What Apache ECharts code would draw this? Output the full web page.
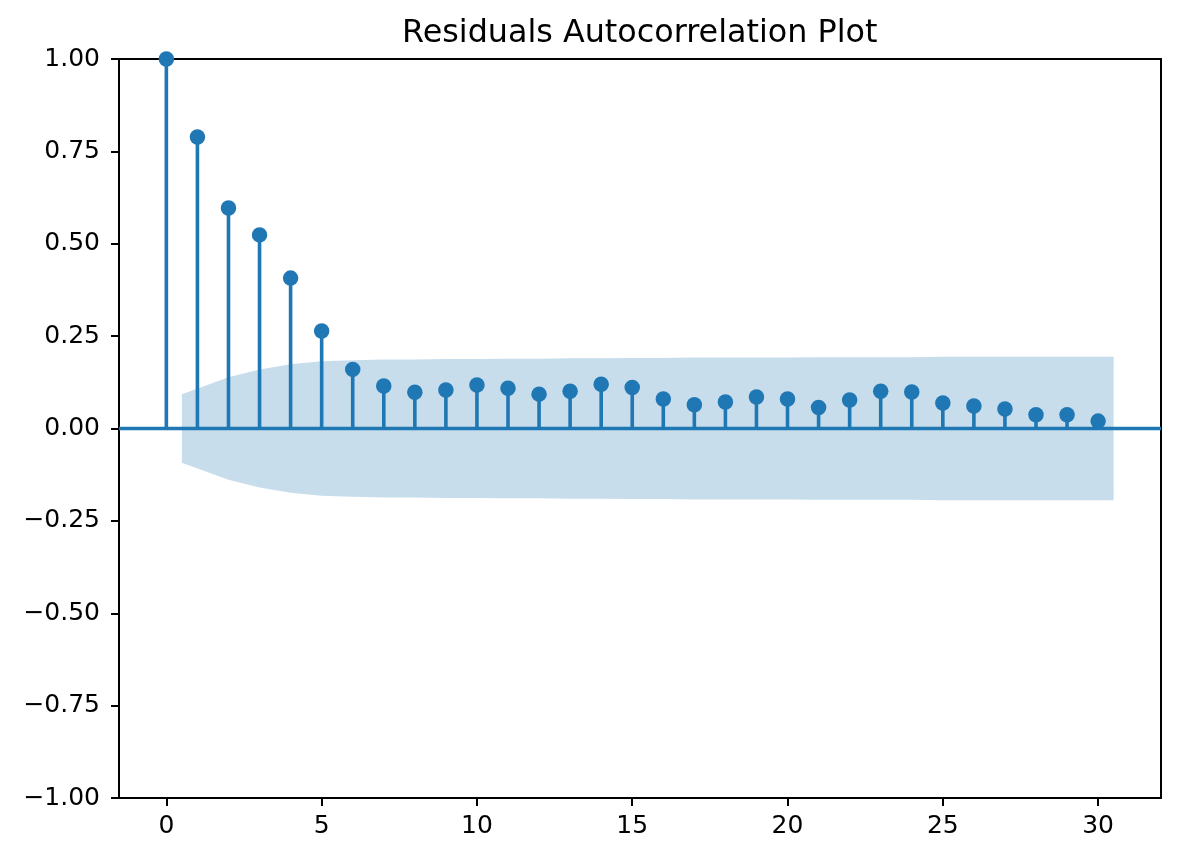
<!DOCTYPE html>
<html>
<head>
<meta charset="utf-8">
<script src="https://cdn.jsdelivr.net/npm/echarts@6/dist/echarts.min.js"></script>
<style>
html,body{margin:0;padding:0;background:#fff;}
#chart{width:1180px;height:862px;}
</style>
</head>
<body>
<div id="chart"></div>
<script>
// ---- data ----
const lags = [0,1,2,3,4,5,6,7,8,9,10,11,12,13,14,15,16,17,18,19,20,21,22,23,24,25,26,27,28,29,30];
const acfValues = [1.0,0.789,0.597,0.524,0.407,0.264,0.160,0.115,0.098,0.104,0.118,0.109,0.093,0.101,0.120,0.111,0.080,0.064,0.072,0.085,0.080,0.057,0.077,0.101,0.099,0.069,0.061,0.053,0.037,0.037,0.020];
// confidence band: x positions and upper half-width (band is symmetric about 0)
const bandX = [0.5,2,3,4,5,6,7,8,9,10,11,12,13,14,15,16,17,18,19,20,21,22,23,24,25,26,27,28,29,30.5];
const bandUpper = [0.093,0.139,0.160,0.174,0.182,0.185,0.187,0.187,0.188,0.188,0.189,0.189,0.190,0.190,0.191,0.191,0.192,0.192,0.192,0.192,0.193,0.193,0.193,0.193,0.194,0.194,0.194,0.194,0.194,0.194];
const xTicks = [0,5,10,15,20,25,30];
const xRange = [-1.525, 32.025];
const yRange = [-1, 1];
const yStep = 0.25;
const titleText = 'Residuals Autocorrelation Plot';

const BLUE = '#1f77b4';
const FONT = 'DejaVu Sans';

const chart = echarts.init(document.getElementById('chart'), null, {renderer:'canvas'});

const fmtY = v => (v < 0 ? '\u2212' : '') + Math.abs(v).toFixed(2);

const option = {
  animation: false,
  backgroundColor: '#fff',
  title: {
    text: titleText,
    left: 397, top: 13,
    textStyle: {fontFamily: FONT, fontSize: 31.8, fontWeight: 'normal', color: '#000'}
  },
  grid: {left: 119, right: 19, top: 59, bottom: 64, show: true, borderColor: '#000', borderWidth: 2, backgroundColor: 'transparent'},
  xAxis: {
    type: 'value', min: xRange[0], max: xRange[1],
    axisLine: {show: true, onZero: false, lineStyle: {color: '#000', width: 2}},
    axisTick: {show: true, inside: false, length: 8, lineStyle: {color: '#000', width: 2}, customValues: xTicks},
    axisLabel: {fontFamily: FONT, fontSize: 25, color: '#000', margin: 16, customValues: xTicks, formatter: v => String(v)},
    splitLine: {show: false}
  },
  yAxis: {
    type: 'value', min: yRange[0], max: yRange[1], interval: yStep,
    axisLine: {show: true, onZero: false, lineStyle: {color: '#000', width: 2}},
    axisTick: {show: true, inside: false, length: 8, lineStyle: {color: '#000', width: 2}},
    axisLabel: {fontFamily: FONT, fontSize: 25, color: '#000', margin: 19, formatter: fmtY},
    splitLine: {show: false}
  },
  series: [
    {
      // confidence band
      type: 'custom', z: 1, silent: true,
      data: [0],
      renderItem: function (params, api) {
        const pts = [];
        for (let i = 0; i < bandX.length; i++) pts.push(api.coord([bandX[i], bandUpper[i]]));
        for (let i = bandX.length - 1; i >= 0; i--) pts.push(api.coord([bandX[i], -bandUpper[i]]));
        return {type: 'polygon', shape: {points: pts}, style: {fill: BLUE, opacity: 0.25}};
      }
    },
    {
      // zero line
      type: 'line', z: 2, silent: true, symbol: 'none',
      data: [[xRange[0], 0], [xRange[1], 0]],
      lineStyle: {color: BLUE, width: 3.5}
    },
    {
      // stems
      type: 'custom', z: 3, silent: true,
      data: lags.map((l, i) => [l, acfValues[i]]),
      renderItem: function (params, api) {
        const p0 = api.coord([api.value(0), 0]);
        const p1 = api.coord([api.value(0), api.value(1)]);
        return {type: 'line', shape: {x1: p0[0], y1: p0[1], x2: p1[0], y2: p1[1]}, style: {stroke: BLUE, lineWidth: 3.6}};
      }
    },
    {
      // markers
      type: 'scatter', z: 4, silent: true,
      symbol: 'circle', symbolSize: 15.5,
      data: lags.map((l, i) => [l, acfValues[i]]),
      itemStyle: {color: BLUE, opacity: 1}
    }
  ]
};
chart.setOption(option);
</script>
</body>
</html>
